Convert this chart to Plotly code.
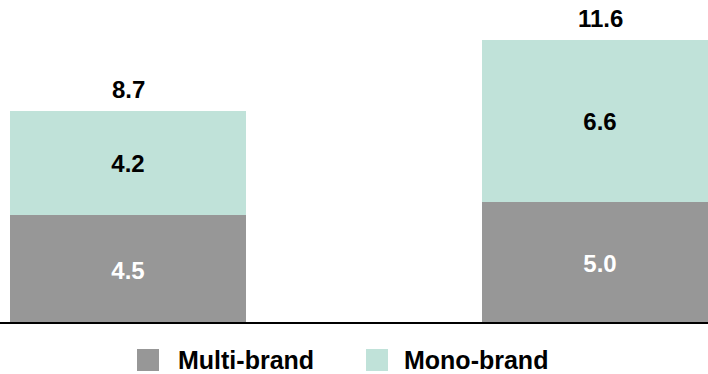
import plotly.graph_objects as go

categories = ["Period 1", "Period 2"]
multi_brand = [4.5, 5.0]
mono_brand = [4.2, 6.6]
totals = [8.7, 11.6]
series_names = ["Multi-brand", "Mono-brand"]

GRAY = "#979797"
MINT = "#c0e2d9"
FONT = "Liberation Sans, Arial, sans-serif"

fig = go.Figure()
fig.add_trace(go.Bar(
    x=categories, y=multi_brand, name=series_names[0],
    marker=dict(color=GRAY, line=dict(width=0)),
    width=0.5,
    text=[f"<b>{v:.1f}</b>" for v in multi_brand],
    textposition="inside", insidetextanchor="middle", textangle=0,
    textfont=dict(color="white", size=24, family=FONT),
    constraintext="none", showlegend=False, cliponaxis=False,
))
fig.add_trace(go.Bar(
    x=categories, y=mono_brand, name=series_names[1],
    marker=dict(color=MINT, line=dict(width=0)),
    width=0.5,
    text=[f"<b>{v:.1f}</b>" for v in mono_brand],
    textposition="inside", insidetextanchor="middle", textangle=0,
    textfont=dict(color="black", size=24, family=FONT),
    constraintext="none", showlegend=False,
))

for c, t in zip(categories, totals):
    fig.add_annotation(
        x=c, y=t, xref="x", yref="y", text=f"<b>{t:.1f}</b>",
        showarrow=False, yanchor="bottom", yshift=6,
        font=dict(size=24, color="black", family=FONT),
    )

# custom legend (large square swatches)
W, PH = 708.0, 322.0
legend_items = [(series_names[0], GRAY, 137, 176), (series_names[1], MINT, 366, 402)]
for name, col, sx, tx in legend_items:
    fig.add_shape(type="rect", xref="paper", yref="paper",
                  x0=sx / W, x1=(sx + 22) / W,
                  y0=(PH - 371) / PH, y1=(PH - 349) / PH,
                  fillcolor=col, line=dict(width=0))
    fig.add_annotation(xref="paper", yref="paper", x=tx / W, y=(PH - 360) / PH,
                       text=f"<b>{name}</b>", showarrow=False,
                       xanchor="left", yanchor="middle",
                       font=dict(size=25, color="black", family=FONT))

fig.update_layout(
    barmode="stack",
    width=708, height=374,
    margin=dict(l=0, r=0, t=0, b=52),
    paper_bgcolor="white", plot_bgcolor="white",
    showlegend=False,
    xaxis=dict(type="category", range=[-0.2712, 1.2288], showticklabels=False,
               showline=True, linecolor="black", linewidth=2, ticks="",
               showgrid=False, zeroline=False, fixedrange=True),
    yaxis=dict(range=[0.142, 13.23], visible=False, showgrid=False,
               zeroline=False, fixedrange=True),
)

fig.write_html("out.html")
